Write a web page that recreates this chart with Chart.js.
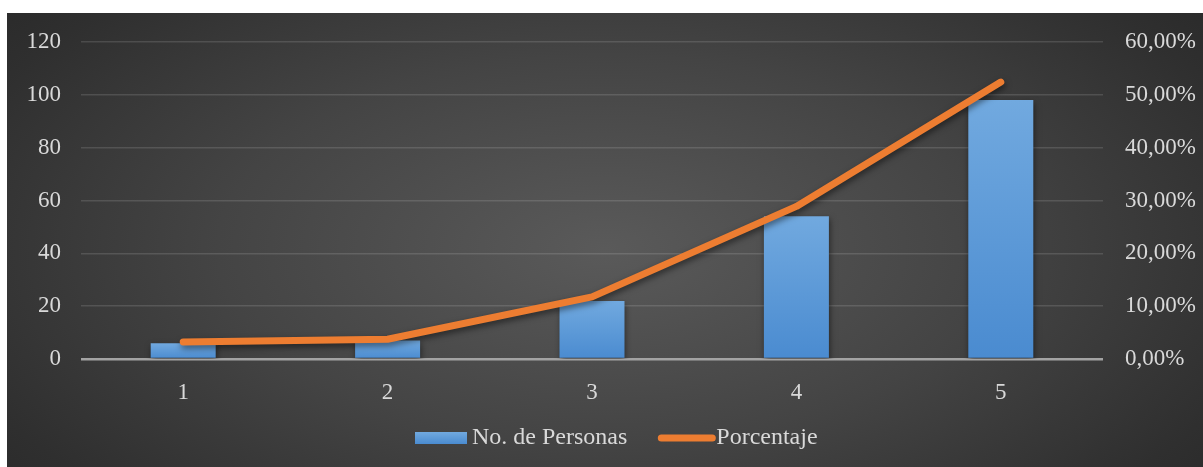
<!DOCTYPE html>
<html>
<head>
<meta charset="utf-8">
<script src="https://cdn.jsdelivr.net/npm/chart.js@4/dist/chart.umd.min.js"></script>
<style>
  html, body { margin: 0; padding: 0; background: #ffffff; width: 1203px; height: 467px; overflow: hidden; }
  #frame {
    position: absolute; left: 7px; top: 13px; width: 1196px; height: 454px;
    background: radial-gradient(ellipse 72% 95% at 50% 52%, #5a5a5a 0%, #444444 45%, #2f2f2f 80%, #262626 100%);
  }
  canvas { display: block; }
</style>
</head>
<body>
<div id="frame"><canvas id="c" width="1196" height="454"></canvas></div>
<script>
// Categories and series
const categories = ['1', '2', '3', '4', '5'];
const personas = [6, 7, 22, 54, 98];
const porcentaje = [3.21, 3.74, 11.76, 28.88, 52.41];
const leftTicks = [0, 20, 40, 60, 80, 100, 120];
const rightTicks = [0, 10, 20, 30, 40, 50, 60];
const seriesNames = ['No. de Personas', 'Porcentaje'];

const FONT = '"Liberation Serif", "Times New Roman", serif';
const TEXT = '#d9d9d9';
const ORANGE = '#ed7d31';

function barGradient(c, top, bottom) {
  const g = c.createLinearGradient(0, top, 0, bottom);
  g.addColorStop(0, '#71a9df');
  g.addColorStop(1, '#4a8bd0');
  return g;
}

// soft drop shadow under bars and the line
const shadowPlugin = {
  id: 'softShadow',
  beforeDatasetDraw(chart) {
    const c = chart.ctx;
    c.save();
    c.shadowColor = 'rgba(0,0,0,0.5)';
    c.shadowBlur = 6;
    c.shadowOffsetX = 1;
    c.shadowOffsetY = 3;
  },
  afterDatasetDraw(chart) { chart.ctx.restore(); }
};

// legend row under the axis
const legendPlugin = {
  id: 'bottomLegend',
  afterDraw(chart) {
    const c = chart.ctx;
    const ds = chart.data.datasets;
    const cy = 425;
    c.save();
    c.font = '24px ' + FONT;
    c.textBaseline = 'middle';
    c.textAlign = 'left';
    let x = 408;
    c.fillStyle = barGradient(c, cy - 6, cy + 6);
    c.fillRect(x, cy - 6, 52, 12);
    x += 57;
    c.fillStyle = TEXT;
    c.fillText(ds[1].label, x, cy);
    x += c.measureText(ds[1].label).width + 31;
    c.strokeStyle = ORANGE;
    c.lineWidth = 7;
    c.lineCap = 'round';
    c.beginPath();
    c.moveTo(x + 3, cy);
    c.lineTo(x + 54, cy);
    c.stroke();
    x += 58;
    c.fillStyle = TEXT;
    c.fillText(ds[0].label, x, cy);
    c.restore();
  }
};

const fmtPct = v => v.toFixed(2).replace('.', ',') + '%';

// vertical axes: fixed width, no extra room reserved above/below the plot
const fixVertical = w => s => { s.width = w; s.paddingTop = 0; s.paddingBottom = 0; };

new Chart(document.getElementById('c'), {
  data: {
    labels: categories,
    datasets: [
      {
        type: 'line',
        label: seriesNames[1],
        data: porcentaje,
        yAxisID: 'y1',
        borderColor: ORANGE,
        borderWidth: 7,
        borderCapStyle: 'round',
        borderJoinStyle: 'round',
        pointRadius: 0,
        pointHoverRadius: 0,
        tension: 0,
        order: 0
      },
      {
        type: 'bar',
        label: seriesNames[0],
        data: personas,
        yAxisID: 'y',
        order: 1,
        categoryPercentage: 1,
        barPercentage: 0.318,
        backgroundColor(ctx) {
          const chart = ctx.chart;
          if (!chart.chartArea || ctx.type !== 'data') return '#5b9bd5';
          const ys = chart.scales.y;
          return barGradient(chart.ctx, ys.getPixelForValue(ctx.parsed.y), ys.getPixelForValue(0));
        }
      }
    ]
  },
  options: {
    responsive: false,
    animation: false,
    devicePixelRatio: 1,
    layout: { padding: { top: 29, left: 0, right: 0, bottom: 0 } },
    plugins: { legend: { display: false }, tooltip: { enabled: false } },
    scales: {
      x: {
        grid: { display: false, drawTicks: false },
        border: { display: false },
        ticks: { color: TEXT, font: { family: FONT, size: 23 }, padding: 20 },
        afterFit(s) { s.height = 108; }
      },
      y: {
        position: 'left',
        min: leftTicks[0],
        max: leftTicks[leftTicks.length - 1],
        afterBuildTicks(s) { s.ticks = leftTicks.map(v => ({ value: v })); },
        grid: {
          drawTicks: false,
          color: c => c.tick && c.tick.value === 0 ? '#a3a3a3' : 'rgba(255,255,255,0.13)',
          lineWidth: c => c.tick && c.tick.value === 0 ? 2.5 : 1.5
        },
        border: { display: false },
        ticks: { color: TEXT, font: { family: FONT, size: 23 }, padding: 20 },
        afterFit: fixVertical(74)
      },
      y1: {
        position: 'right',
        min: rightTicks[0],
        max: rightTicks[rightTicks.length - 1],
        afterBuildTicks(s) { s.ticks = rightTicks.map(v => ({ value: v })); },
        grid: { display: false, drawTicks: false },
        border: { display: false },
        ticks: { color: TEXT, font: { family: FONT, size: 23 }, padding: 22, callback: v => fmtPct(v) },
        afterFit: fixVertical(100)
      }
    }
  },
  plugins: [shadowPlugin, legendPlugin]
});
</script>
</body>
</html>
